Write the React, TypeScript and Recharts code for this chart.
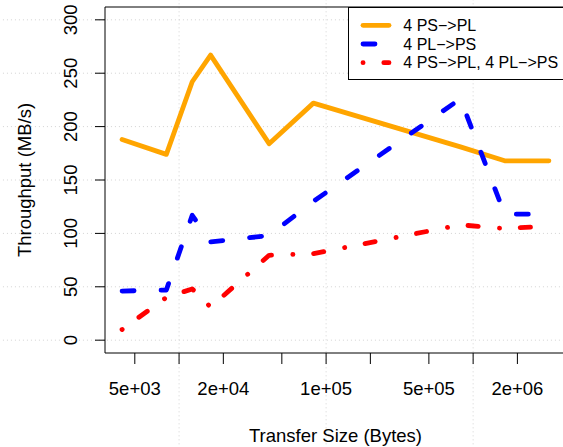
import React from 'react';
import { LineChart, Line, XAxis, YAxis, ReferenceLine, Legend, Label } from 'recharts';

// transfer sizes in bytes (log x axis)
const sizes = [4096, 8192, 12288, 16384, 40960, 81920, 819200, 1638400, 3276800];
// throughput in MB/s
const psToPl = [188, 174, 242, 267, 184, 222, 181, 168, 168];
const plToPs = [46, 47, 117, 92, 98, 130, 226, 118, 118];
const bothWays = [10, 40, 48, 31, 79.5, 81, 108, 104.5, 107];

const xTicks = [5e3, 1e4, 2e4, 5e4, 1e5, 2e5, 5e5, 1e6, 2e6];
const xTickLabels = ['5e+03', '', '2e+04', '', '1e+05', '', '5e+05', '', '2e+06'];
const yTicks = [0, 50, 100, 150, 200, 250, 300];
const gridX = [1e4, 1e5, 1e6];

const data = sizes.map((size, i) => ({
  size,
  psToPl: psToPl[i],
  plToPs: plToPs[i],
  bothWays: bothWays[i],
}));

const series = [
  { key: 'psToPl', name: '4 PS\u2212>PL', color: '#FFA500', dash: undefined },
  { key: 'plToPs', name: '4 PL\u2212>PS', color: '#0000FF', dash: '12 27' },
  { key: 'bothWays', name: '4 PS\u2212>PL, 4 PL\u2212>PS', color: '#FF0000', dash: '0.1 20.7 10.3 21.3' },
];

// R style 4% padding of the (log) x range, ylim 0..300
const lo = Math.log10(sizes[0]);
const hi = Math.log10(sizes[sizes.length - 1]);
const pad = (hi - lo) * 0.04;
const xDomain = [10 ** (lo - pad), 10 ** (hi + pad)];
const yDomain = [-12, 312];

const FONT = '"Liberation Sans", Arial, Helvetica, sans-serif';
const GRID = '#d3d3d3';

const XTick = ({ x, y, payload }: any) => {
  const label = xTickLabels[xTicks.indexOf(payload.value)];
  if (!label) return <g />;
  return (
    <text x={x} y={y + 31} textAnchor="middle" fontSize={18.5} fontFamily={FONT} fill="#000">
      {label}
    </text>
  );
};

const YTick = ({ x, y, payload }: any) => {
  const tx = x - 18.3;
  return (
    <text x={tx} y={y} transform={`rotate(-90, ${tx}, ${y})`} textAnchor="middle" fontSize={18.5} fontFamily={FONT} fill="#000">
      {payload.value}
    </text>
  );
};

const XTitle = ({ viewBox }: any) => (
  <text x={viewBox.x + viewBox.width / 2} y={viewBox.y + 88.7} textAnchor="middle" fontSize={18.5} fontFamily={FONT} fill="#000">
    Transfer Size (Bytes)
  </text>
);

const YTitle = ({ viewBox }: any) => {
  const cy = viewBox.y + viewBox.height / 2;
  return (
    <text x={31} y={cy} transform={`rotate(-90, 31, ${cy})`} textAnchor="middle" fontSize={18.5} fontFamily={FONT} fill="#000">
      Throughput (MB/s)
    </text>
  );
};

const LegendBox = () => (
  <div style={{ width: 240, height: 73, boxSizing: 'border-box', border: '1px solid #000', background: '#fff', position: 'relative' }}>
    <svg width={240} height={73} style={{ position: 'absolute', left: -1, top: -1 }}>
      {series.map((s, i) => {
        const cy = 18.3 + i * 18.7;
        return (
          <g key={s.key}>
            <line x1={15} x2={41} y1={cy} y2={cy} stroke={s.color} strokeWidth={4.8} strokeDasharray={s.dash} strokeLinecap="round" />
            <text x={55.3} y={cy + 5.7} fontSize={16} fontFamily={FONT} fill="#000">
              {s.name}
            </text>
          </g>
        );
      })}
    </svg>
  </div>
);

export default function App() {
  return (
    <div style={{ position: 'absolute', left: 0, top: 0, width: 563, height: 447, overflow: 'hidden', background: '#fff' }}>
      <LineChart width={580} height={447} data={data} margin={{ top: 7, right: 14, bottom: 0, left: 0 }}>
        <XAxis
          dataKey="size"
          type="number"
          scale="log"
          domain={xDomain}
          allowDataOverflow
          ticks={xTicks}
          interval={0}
          tickSize={11}
          tickMargin={0}
          tick={XTick}
          tickLine={{ stroke: '#000' }}
          axisLine={{ stroke: '#000' }}
          height={94}
          label={<Label content={XTitle} />}
        />
        <YAxis
          type="number"
          domain={yDomain}
          allowDataOverflow
          ticks={yTicks}
          interval={0}
          tickSize={10}
          tickMargin={0}
          tick={YTick}
          tickLine={{ stroke: '#000' }}
          axisLine={{ stroke: '#000' }}
          width={105}
          label={<Label content={YTitle} />}
        />
        {yTicks.map((v) => (
          <ReferenceLine
            key={`h${v}`}
            segment={[{ x: xDomain[0] / 100, y: v }, { x: xDomain[1] * 10, y: v }]}
            stroke={GRID}
            strokeDasharray="1 3"
            ifOverflow="visible"
          />
        ))}
        {gridX.map((v) => (
          <ReferenceLine
            key={`v${v}`}
            segment={[{ x: v, y: -120 }, { x: v, y: 340 }]}
            stroke={GRID}
            strokeDasharray="1 3"
            ifOverflow="visible"
          />
        ))}
        <ReferenceLine y={yDomain[1]} stroke="#000" ifOverflow="visible" />
        {series.map((s) => (
          <Line
            key={s.key}
            dataKey={s.key}
            name={s.name}
            stroke={s.color}
            strokeWidth={4.8}
            strokeDasharray={s.dash}
            strokeLinecap="round"
            strokeLinejoin="round"
            dot={false}
            activeDot={false}
            isAnimationActive={false}
          />
        ))}
        <Legend
          layout="vertical"
          align="center"
          verticalAlign="middle"
          wrapperStyle={{ left: 348, top: 7, width: 240, height: 73 }}
          content={LegendBox}
        />
      </LineChart>
    </div>
  );
}
